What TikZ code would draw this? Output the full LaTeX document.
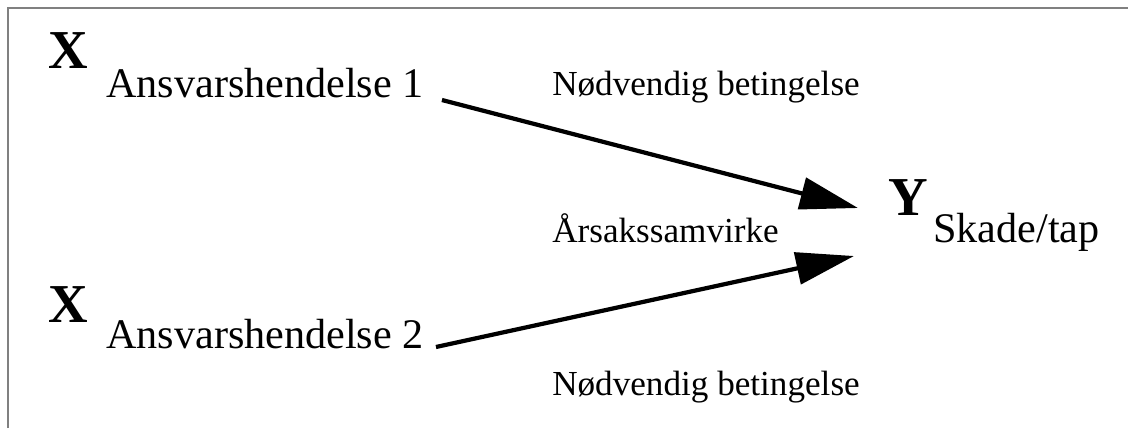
\documentclass[tikz,border=0pt]{standalone}
\usepackage{fontspec}
\setmainfont{Liberation Serif}
\usetikzlibrary{arrows.meta}

\begin{document}
\begin{tikzpicture}[
    label/.style={
        inner sep=0pt,
        anchor=base west,
        font=\fontsize{30}{32}\selectfont
    },
    var/.style={
        inner sep=0pt,
        anchor=base west,
        font=\fontsize{39}{41}\selectfont\bfseries
    },
    note/.style={
        inner sep=0pt,
        anchor=base west,
        font=\fontsize{25}{27}\selectfont
    },
    arrow/.style={-{Triangle[length=1.45cm, width=0.8cm]}, line width=3pt}
]

\useasboundingbox (0,0) rectangle (28.2,-10.7);
\draw[gray, line width=1.2pt] (0.2,-10.7) -- (0.2,-0.2) -- (28.2,-0.2);

\node[var] (x1) at (1.2,-1.7) {X};
\node[label] (event1) at (2.65,-2.425) {Ansvarshendelse 1};
\node[note] (cond1) at (13.8,-2.375) {Nødvendig betingelse};

\node[var] (x2) at (1.2,-8.05) {X};
\node[label] (event2) at (2.65,-8.7) {Ansvarshendelse 2};
\node[note] (cond2) at (13.8,-9.875) {Nødvendig betingelse};

\node[note] (interplay) at (13.8,-6.05) {Årsakssamvirke};

\node[var] (y) at (22.2,-5.375) {Y};
\node[label] (damage) at (23.325,-6.05) {Skade/tap};

\coordinate (tip1) at (21.45,-5.2);
\coordinate (tip2) at (21.35,-6.4);

\draw[arrow] ([shift={(0.45,-0.075)}]event1.base east) -- (tip1);
\draw[arrow] ([shift={(0.3,0.025)}]event2.base east) -- (tip2);

\end{tikzpicture}
\end{document}
